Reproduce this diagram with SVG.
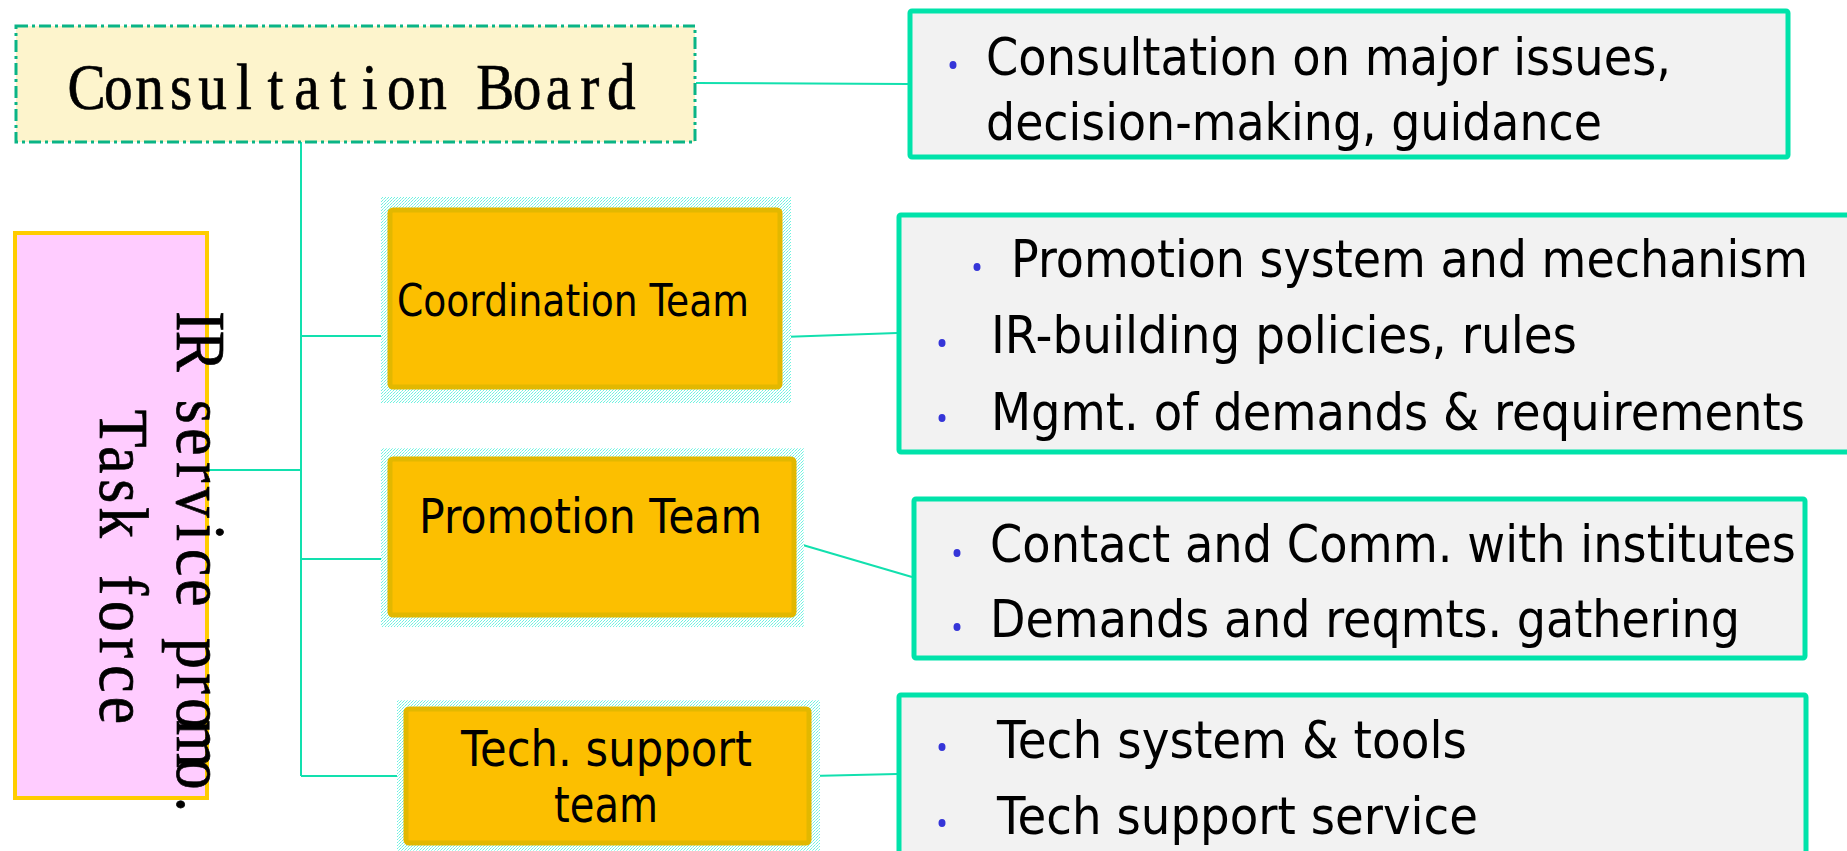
<svg xmlns="http://www.w3.org/2000/svg" width="1847" height="851" viewBox="0 0 1847 851">
  <defs>
    <!-- dithered aqua glow behind the team boxes -->
    <pattern id="halo" width="3" height="3" patternUnits="userSpaceOnUse">
      <rect width="3" height="3" fill="#ffffff"/>
      <rect x="0" y="0" width="1" height="1" fill="#6ef2e0"/>
      <rect x="2" y="1" width="1" height="1" fill="#9ff7ec"/>
      <rect x="1" y="2" width="1" height="1" fill="#6ef2e0"/>
    </pattern>
    <style>
      .conn { stroke: #12e0ae; stroke-width: 2; fill: none; }
      .team { fill: #fcbf00; stroke: #e2b800; stroke-width: 5; }
      .halo { fill: url(#halo); }
      .teamtxt { font-family: "DejaVu Sans", Verdana, sans-serif; fill: #000; }
      .detail { fill: #f2f2f2; stroke: #00e3aa; stroke-width: 5; }
      .dtxt { font-family: "DejaVu Sans", Verdana, sans-serif; font-size: 51px; fill: #000; }
      .bullet { fill: #3535d8; }
      /* narrow fixed-pitch serif lettering: each glyph centred in its own cell */
      .cell { font-family: "Liberation Serif", "DejaVu Serif", serif; fill: #000; stroke: #000; stroke-width: 0.7; text-anchor: middle; }
    </style>
  </defs>

  <rect width="1847" height="851" fill="#ffffff"/>

  <!-- connectors -->
  <g id="connectors">
    <line class="conn" x1="696" y1="83" x2="908" y2="84"/>
    <line class="conn" x1="301" y1="142" x2="301" y2="776"/>
    <line class="conn" x1="209" y1="470" x2="301" y2="470"/>
    <line class="conn" x1="301" y1="336" x2="388" y2="336"/>
    <line class="conn" x1="301" y1="559" x2="388" y2="559"/>
    <line class="conn" x1="301" y1="776" x2="404" y2="776"/>
    <line class="conn" x1="782" y1="337" x2="897" y2="333"/>
    <line class="conn" x1="796" y1="543" x2="912" y2="577"/>
    <line class="conn" x1="811" y1="776" x2="897" y2="774"/>
  </g>

  <!-- top board -->
  <g id="consultation-board">
    <rect x="16" y="26" width="679" height="116" fill="#fdf4cc" stroke="#0ab486" stroke-width="3" stroke-dasharray="12 4 3 4"/>
    <text class="cell" transform="scale(0.88,1)" y="109" font-size="65"
      x="98.5 134.3 170.0 205.7 241.5 277.2 312.9 348.7 384.4 420.1 455.9 491.6 527.3 563.0 598.8 634.5 670.2 706.0">Consultation Board</text>
  </g>

  <!-- task force -->
  <g id="task-force">
    <rect x="15" y="233" width="192" height="565" fill="#ffccff" stroke="#ffcc00" stroke-width="4"/>
    <text class="cell" transform="translate(177,306) rotate(90) scale(0.88,1)" y="0" font-size="70"
      x="17.2 51.5 85.8 120.1 154.4 188.8 223.1 257.4 291.7 326.0 360.4 394.7 429.0 463.3 497.6 532.0 566.3">IR service promo.</text>
    <text class="cell" transform="translate(100,413) rotate(90) scale(0.88,1)" y="0" font-size="70"
      x="17.8 53.3 88.9 124.5 160.1 195.6 231.2 266.8 302.3 337.9">Task force</text>
  </g>

  <!-- teams -->
  <g id="coordination-team">
    <rect class="halo" x="381" y="197" width="410" height="206"/>
    <rect class="team" x="390" y="210" width="390" height="177" rx="3"/>
    <text class="teamtxt" x="397" y="316" font-size="44" textLength="352" lengthAdjust="spacingAndGlyphs">Coordination Team</text>
  </g>

  <g id="promotion-team">
    <rect class="halo" x="381" y="448" width="423" height="179"/>
    <rect class="team" x="390" y="459" width="404" height="156" rx="3"/>
    <text class="teamtxt" x="419" y="533" font-size="48" textLength="343" lengthAdjust="spacingAndGlyphs">Promotion Team</text>
  </g>

  <g id="tech-support-team">
    <rect class="halo" x="397" y="700" width="423" height="151"/>
    <rect class="team" x="406" y="709" width="403" height="134" rx="3"/>
    <text class="teamtxt" x="461" y="766" font-size="49" textLength="291" lengthAdjust="spacingAndGlyphs">Tech. support</text>
    <text class="teamtxt" x="554" y="822" font-size="49" textLength="104" lengthAdjust="spacingAndGlyphs">team</text>
  </g>

  <!-- detail boxes -->
  <g id="board-duties">
    <rect class="detail" x="910" y="11" width="878" height="146" rx="2"/>
    <ellipse class="bullet" cx="953" cy="65" rx="3.5" ry="4"/>
    <text class="dtxt" x="986" y="75" textLength="685" lengthAdjust="spacingAndGlyphs">Consultation on major issues,</text>
    <text class="dtxt" x="986" y="140" textLength="616" lengthAdjust="spacingAndGlyphs">decision-making, guidance</text>
  </g>

  <g id="coordination-duties">
    <rect class="detail" x="899" y="215" width="970" height="237" rx="2"/>
    <ellipse class="bullet" cx="977" cy="267" rx="3.5" ry="4"/>
    <text class="dtxt" x="1011" y="277" textLength="797" lengthAdjust="spacingAndGlyphs">Promotion system and mechanism</text>
    <ellipse class="bullet" cx="942" cy="343" rx="3.5" ry="4"/>
    <text class="dtxt" x="991" y="353" textLength="586" lengthAdjust="spacingAndGlyphs">IR-building policies, rules</text>
    <ellipse class="bullet" cx="942" cy="418" rx="3.5" ry="4"/>
    <text class="dtxt" x="991" y="430" textLength="814" lengthAdjust="spacingAndGlyphs">Mgmt. of demands &amp; requirements</text>
  </g>

  <g id="promotion-duties">
    <rect class="detail" x="914" y="499" width="891" height="159" rx="2"/>
    <ellipse class="bullet" cx="957" cy="553" rx="3.5" ry="4"/>
    <text class="dtxt" x="990" y="562" textLength="806" lengthAdjust="spacingAndGlyphs">Contact and Comm. with institutes</text>
    <ellipse class="bullet" cx="957" cy="627" rx="3.5" ry="4"/>
    <text class="dtxt" x="990" y="637" textLength="750" lengthAdjust="spacingAndGlyphs">Demands and reqmts. gathering</text>
  </g>

  <g id="tech-duties">
    <rect class="detail" x="899" y="695" width="907" height="180" rx="2"/>
    <ellipse class="bullet" cx="942" cy="747" rx="3.5" ry="4"/>
    <text class="dtxt" x="997" y="758" textLength="470" lengthAdjust="spacingAndGlyphs">Tech system &amp; tools</text>
    <ellipse class="bullet" cx="942" cy="823" rx="3.5" ry="4"/>
    <text class="dtxt" x="997" y="834" textLength="481" lengthAdjust="spacingAndGlyphs">Tech support service</text>
  </g>
</svg>
